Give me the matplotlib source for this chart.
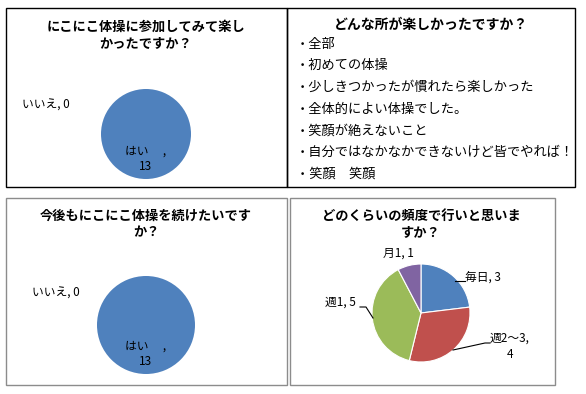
import matplotlib
matplotlib.use("Agg")
import matplotlib.pyplot as plt
from matplotlib.patches import Rectangle
import numpy as np

plt.rcParams['font.family'] = ['Noto Sans CJK JP', 'DejaVu Sans']

# ---- data ----
q1_title = "にこにこ体操に参加してみて楽し\nかったですか？"
q1_labels = ["はい", "いいえ"]
q1_values = [13, 0]

q2_title = "どんな所が楽しかったですか？"
q2_items = ["全部", "初めての体操", "少しきつかったが慣れたら楽しかった",
            "全体的によい体操でした。", "笑顔が絶えないこと",
            "自分ではなかなかできないけど皆でやれば！", "笑顔　笑顔"]

q3_title = "今後もにこにこ体操を続けたいです\nか？"
q3_labels = ["はい", "いいえ"]
q3_values = [13, 0]

q4_title = "どのくらいの頻度で行いと思いま\nすか？"
q4_labels = ["毎日", "週2〜3", "週1", "月1"]
q4_values = [3, 4, 5, 1]
q4_colors = ["#4F81BD", "#C0504D", "#9BBB59", "#8064A2"]

W, H = 586, 394
fig = plt.figure(figsize=(W / 100, H / 100), dpi=100)
ax = fig.add_axes([0, 0, 1, 1])
ax.set_xlim(0, W)
ax.set_ylim(0, H)
ax.axis('off')

def Y(y):
    return H - y

# boxes
ax.add_patch(Rectangle((6, Y(187)), 281, 179, fill=False, edgecolor='black', lw=1.0))
ax.add_patch(Rectangle((287, Y(187)), 288, 179, fill=False, edgecolor='black', lw=1.0))
ax.add_patch(Rectangle((6, Y(385)), 281, 187, fill=False, edgecolor='#8c8c8c', lw=1.0))
ax.add_patch(Rectangle((290, Y(385)), 265, 187, fill=False, edgecolor='#8c8c8c', lw=1.0))

title_kw = dict(fontsize=9.5, fontweight='bold', ha='center', va='center', linespacing=1.25)

# ---- Q1 ----
ax.text(146, Y(35), q1_title, **title_kw)
ax.pie(q1_values, colors=["#4F81BD", "#C0504D"], startangle=90, counterclock=False,
       center=(146, Y(134)), radius=45, wedgeprops=dict(linewidth=0))
ax.text(22, Y(105), f"{q1_labels[1]}, {q1_values[1]}", fontsize=8.5, ha='left', va='center')
ax.text(146, Y(159), f"{q1_labels[0]}　 ,\n{q1_values[0]}", fontsize=8.5, ha='center', va='center', linespacing=1.2)

# ---- Q2 ----
ax.text(431, Y(25), q2_title, fontsize=10, fontweight='bold', ha='center', va='center')
for i, item in enumerate(q2_items):
    ax.text(296, Y(44 + i * 21.7), "・" + item, fontsize=9.5, ha='left', va='center')

# ---- Q3 ----
ax.text(146, Y(224), q3_title, **title_kw)
ax.pie(q3_values, colors=["#4F81BD", "#C0504D"], startangle=90, counterclock=False,
       center=(146, Y(325)), radius=49, wedgeprops=dict(linewidth=0))
ax.text(32, Y(293), f"{q3_labels[1]}, {q3_values[1]}", fontsize=8.5, ha='left', va='center')
ax.text(146, Y(354), f"{q3_labels[0]}　 ,\n{q3_values[0]}", fontsize=8.5, ha='center', va='center', linespacing=1.2)

# ---- Q4 ----
ax.text(421, Y(224), q4_title, **title_kw)
cx, cy, r = 421, Y(313), 49
wedges, _ = ax.pie(q4_values, colors=q4_colors, startangle=90, counterclock=False,
                   center=(cx, cy), radius=r,
                   wedgeprops=dict(linewidth=0.8, edgecolor='white'))

lab_fs = 8.5
# 毎日
ax.text(465, Y(277), f"{q4_labels[0]}, {q4_values[0]}", fontsize=lab_fs, ha='left', va='center')
ax.plot([455, 465], [Y(281), Y(281)], color='black', lw=0.8)
# 週2〜3
ax.text(510, Y(346), f"{q4_labels[1]},\n{q4_values[1]}", fontsize=lab_fs, ha='center', va='center', linespacing=1.3)
ax.plot([453, 485, 490], [Y(350), Y(343), Y(343)], color='black', lw=0.8)
# 週1
ax.text(325, Y(302), f"{q4_labels[2]}, {q4_values[2]}", fontsize=lab_fs, ha='left', va='center')
ax.plot([360, 366, 373], [Y(307), Y(307), Y(318)], color='black', lw=0.8)
# 月1
ax.text(398, Y(253), f"{q4_labels[3]}, {q4_values[3]}", fontsize=lab_fs, ha='center', va='center')

ax.set_xlim(0, W)
ax.set_ylim(0, H)
ax.set_aspect('auto')

fig.savefig("out.png", dpi=100)
